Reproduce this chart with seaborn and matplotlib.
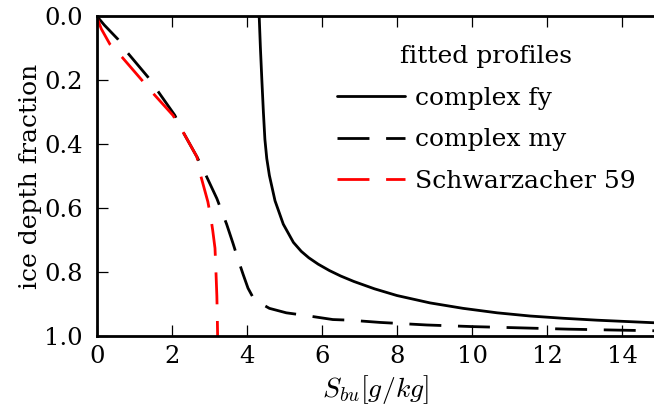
import matplotlib
matplotlib.use("Agg")
import matplotlib.pyplot as plt
import seaborn as sns

# complex fy (solid black): salinity vs depth fraction
fy_S = [4.32, 4.33, 4.36, 4.40, 4.44, 4.48, 4.53, 4.60, 4.75, 4.97, 5.24, 5.45, 5.65, 5.90, 6.20, 6.50, 6.85, 7.40, 8.00, 8.88, 9.76, 10.67, 11.55, 12.43, 13.33, 14.85]
fy_d = [0.00, 0.006, 0.098, 0.202, 0.300, 0.385, 0.445, 0.498, 0.577, 0.65, 0.707, 0.735, 0.755, 0.775, 0.795, 0.812, 0.829, 0.852, 0.873, 0.896, 0.913, 0.927, 0.937, 0.944, 0.950, 0.958]

# complex my (dashed black)
my_S = [0.00, 0.20, 0.56, 0.83, 1.36, 1.60, 2.08, 2.27, 2.67, 2.88, 3.20, 3.46, 3.63, 3.77, 3.90, 4.03, 4.15, 4.30, 4.60, 5.05, 5.49, 6.29, 6.75, 7.55, 8.80, 10.00, 11.30, 12.56, 13.87, 14.85]
my_d = [0.00, 0.028, 0.072, 0.116, 0.19, 0.23, 0.31, 0.356, 0.44, 0.49, 0.57, 0.65, 0.71, 0.762, 0.807, 0.85, 0.876, 0.893, 0.913, 0.927, 0.934, 0.948, 0.950, 0.957, 0.965, 0.970, 0.974, 0.978, 0.981, 0.983]

# Schwarzacher 59 (dashed red)
sw_S = [0.00, 0.03, 0.12, 0.35, 0.67, 1.20, 1.49, 2.03, 2.27, 2.67, 2.75, 2.96, 3.04, 3.09, 3.15, 3.17, 3.20, 3.21, 3.22]
sw_d = [0.00, 0.0125, 0.04, 0.088, 0.128, 0.20, 0.24, 0.31, 0.356, 0.44, 0.49, 0.58, 0.63, 0.67, 0.725, 0.78, 0.875, 0.93, 1.00]

labels = ["complex fy", "complex my", "Schwarzacher 59"]
x_ticks = [0, 2, 4, 6, 8, 10, 12, 14]
y_ticks = [0.0, 0.2, 0.4, 0.6, 0.8, 1.0]

sns.set_theme(style="ticks")
plt.rcParams["font.family"] = ["DejaVu Serif"]
plt.rcParams["mathtext.fontset"] = "cm"
plt.rcParams["lines.scale_dashes"] = True
plt.rcParams["text.color"] = "black"
plt.rcParams["axes.labelcolor"] = "black"

fig = plt.figure(figsize=(6.54, 4.12), dpi=100)
ax = fig.add_axes([0.148, 0.184, 0.852, 0.777])

dash = (0, (11.5, 6.0))
sns.lineplot(x=fy_S, y=fy_d, sort=False, estimator=None, color="black", lw=2, ax=ax, label=labels[0])
sns.lineplot(x=my_S, y=my_d, sort=False, estimator=None, color="black", lw=2, ax=ax, label=labels[1], linestyle=dash)
sns.lineplot(x=sw_S, y=sw_d, sort=False, estimator=None, color="red", lw=2, ax=ax, label=labels[2], linestyle=dash)

ax.set_xlim(0, 14.85)
ax.set_ylim(1.0, 0.0)
ax.set_xticks(x_ticks)
ax.set_yticks(y_ticks)
ax.set_yticklabels([f"{v:.1f}" for v in y_ticks])

ax.spines["right"].set_visible(False)
for s in ["left", "bottom", "top"]:
    ax.spines[s].set_linewidth(2)
    ax.spines[s].set_color("black")
ax.tick_params(axis="both", direction="in", length=8, width=0.9, color="black",
               labelsize=17.5, labelcolor="black")
ax.tick_params(axis="x", top=True, bottom=True, pad=6)
ax.tick_params(axis="y", left=True, right=False, pad=10)

ax.set_xlabel(r"$S_{bu}[g/kg]$", fontsize=20, labelpad=4)
ax.set_ylabel("ice depth fraction", fontsize=18, labelpad=2)

leg = ax.legend(title="fitted profiles", frameon=False, loc="upper right",
                bbox_to_anchor=(1.007, 0.98), fontsize=18, title_fontsize=18,
                handlelength=2.7, labelspacing=0.75, handletextpad=0.4)
for h in leg.get_lines():
    h.set_linewidth(2)

fig.savefig("out.png", dpi=100)
